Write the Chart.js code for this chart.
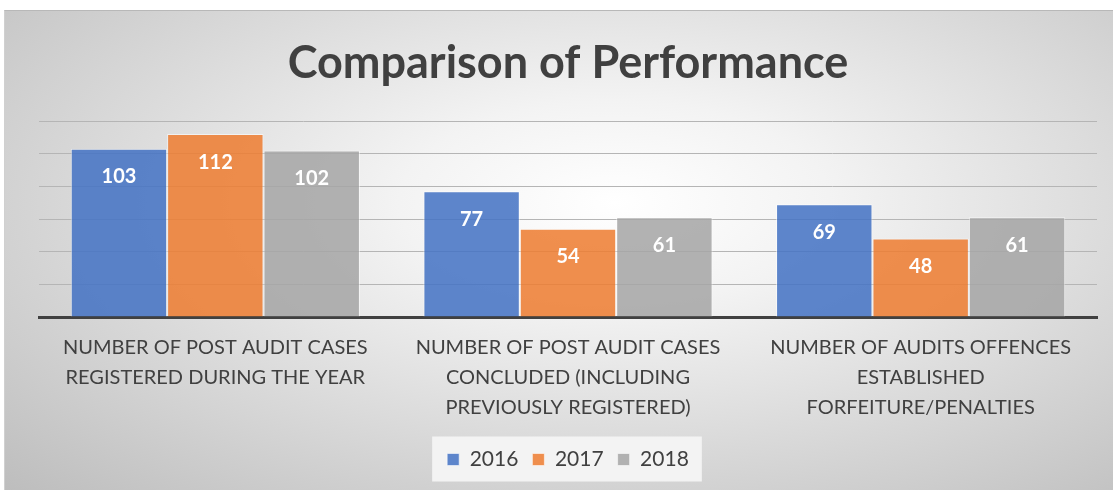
<!DOCTYPE html>
<html lang="en">
<head>
    <meta charset="UTF-8">
    <title>Comparison of Performance</title>
    <style>
        body { margin: 0; background: #fff; }
        .box {
            position: absolute; left: 4px; top: 10px; width: 1108px; height: 480px;
            background: radial-gradient(ellipse farthest-corner at 55% 40%, #ffffff 0%, #f3f3f3 25%, #bdbdbd 100%);
            border-top: 1px solid #b8b8b8;
            border-left: 1px solid #d0d0d0;
        }
    </style>
</head>
<body>
    <div class="box">
        <canvas id="grafico" width="1108" height="480"></canvas>
    </div>
<script src="https://cdn.jsdelivr.net/npm/chart.js"></script>
<script>
    // dados do gráfico
    const categorias = [
        ['NUMBER OF POST AUDIT CASES', 'REGISTERED DURING THE YEAR'],
        ['NUMBER OF POST AUDIT CASES', 'CONCLUDED (INCLUDING', 'PREVIOUSLY REGISTERED)'],
        ['NUMBER OF AUDITS OFFENCES', 'ESTABLISHED', 'FORFEITURE/PENALTIES']
    ];
    const anos = ['2016', '2017', '2018'];
    const valores2016 = [103, 77, 69];
    const valores2017 = [112, 54, 48];
    const valores2018 = [102, 61, 61];
    const cores = ['rgba(68,114,196,0.86)', 'rgba(237,125,49,0.86)', 'rgba(165,165,165,0.86)'];

    // escreve os valores dentro das barras
    const rotulos = {
        id: 'rotulos',
        afterDatasetsDraw(chart) {
            const ctx = chart.ctx;
            ctx.save();
            ctx.fillStyle = '#fff';
            ctx.font = 'bold 20px Lato';
            ctx.textAlign = 'center';
            ctx.textBaseline = 'middle';
            chart.data.datasets.forEach((ds, i) => {
                chart.getDatasetMeta(i).data.forEach((bar, j) => {
                    ctx.fillText(ds.data[j], bar.x, bar.y + 28);
                });
            });
            ctx.restore();
        }
    };

    // fundo da legenda
    const fundoLegenda = {
        id: 'fundoLegenda',
        beforeDraw(chart) {
            const boxes = chart.legend.legendHitBoxes;
            if (!boxes || !boxes.length) return;
            let x1 = Math.min(...boxes.map(b => b.left));
            let x2 = Math.max(...boxes.map(b => b.left + b.width));
            let y = boxes[0].top + boxes[0].height / 2;
            const ctx = chart.ctx;
            ctx.save();
            ctx.fillStyle = '#f3f3f3';
            ctx.fillRect(x1 - 15, y - 23, x2 - x1 + 28, 45);
            ctx.restore();
        }
    };

    new Chart(document.getElementById('grafico'), {
        type: 'bar',
        data: {
            labels: categorias,
            datasets: [
                { label: anos[0], data: valores2016, backgroundColor: cores[0] },
                { label: anos[1], data: valores2017, backgroundColor: cores[1] },
                { label: anos[2], data: valores2018, backgroundColor: cores[2] }
            ].map(d => Object.assign(d, {
                borderColor: 'rgba(255,255,255,0.55)',
                borderWidth: 1,
                categoryPercentage: 0.82,
                barPercentage: 1
            }))
        },
        options: {
            responsive: false,
            animation: false,
            layout: { padding: { left: 34, right: 16, top: 0, bottom: 11 } },
            plugins: {
                title: {
                    display: true,
                    text: 'Comparison of Performance',
                    color: '#404040',
                    font: { family: 'Lato', size: 45, weight: 'bold' },
                    padding: { top: 25, bottom: 31 }
                },
                legend: {
                    position: 'bottom',
                    labels: {
                        color: '#404040',
                        font: { family: 'Lato', size: 21 },
                        boxWidth: 12,
                        boxHeight: 12,
                        padding: 14
                    }
                },
                tooltip: { enabled: false }
            },
            scales: {
                x: {
                    grid: { display: false },
                    border: { display: true, color: '#404040', width: 3 },
                    ticks: {
                        color: '#404040',
                        font: { family: 'Lato', size: 20, lineHeight: 1.5 },
                        maxRotation: 0,
                        autoSkip: false,
                        padding: 8
                    },
                    afterFit(scale) { scale.height += 4; }
                },
                y: {
                    min: 0,
                    max: 120,
                    ticks: { display: false, stepSize: 20 },
                    grid: { color: '#b5b5b5', lineWidth: 1, drawTicks: false },
                    border: { display: false }
                }
            }
        },
        plugins: [fundoLegenda, rotulos]
    });
</script>
</body>
</html>
